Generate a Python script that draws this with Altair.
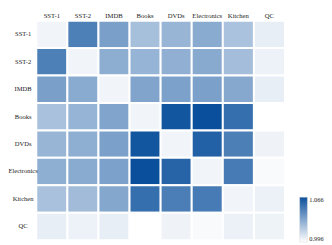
import altair as alt
import pandas as pd

labels = ["SST-1", "SST-2", "IMDB", "Books", "DVDs", "Electronics", "Kitchen", "QC"]

row_sst1 = [1.000, 1.0465, 1.0340, 1.0214, 1.0254, 1.0294, 1.0203, 1.0026]
row_sst2 = [1.0465, 1.000, 1.0283, 1.0260, 1.0277, 1.0300, 1.0223, 1.0011]
row_imdb = [1.0340, 1.0294, 1.000, 1.0320, 1.0334, 1.0337, 1.0305, 1.0026]
row_books = [1.0206, 1.0260, 1.0320, 1.000, 1.0634, 1.0660, 1.0534, 0.9960]
row_dvds = [1.0254, 1.0280, 1.0337, 1.0634, 1.000, 1.0589, 1.0469, 1.0006]
row_elec = [1.0280, 1.0294, 1.0334, 1.0660, 1.0580, 1.000, 1.0486, 0.9980]
row_kitchen = [1.0206, 1.0229, 1.0311, 1.0534, 1.0475, 1.0486, 1.000, 1.0014]
row_qc = [1.0026, 1.0011, 1.0026, 0.9960, 1.0006, 0.9980, 1.0014, 1.0009]

rows = [row_sst1, row_sst2, row_imdb, row_books, row_dvds, row_elec, row_kitchen, row_qc]

records = []
for rname, vals in zip(labels, rows):
    for cname, v in zip(labels, vals):
        records.append({"row": rname, "col": cname, "value": v})
df = pd.DataFrame(records)

font = "Liberation Serif"

chart = alt.Chart(df).mark_rect(stroke="white", strokeWidth=2).encode(
    x=alt.X("col:N", sort=labels, title=None,
            axis=alt.Axis(orient="top", domain=False, ticks=False, tickSize=0,
                          labelPadding=2, labelAngle=0, labelFont=font,
                          labelFontSize=6.8, labelColor="#222222")),
    y=alt.Y("row:N", sort=labels, title=None,
            axis=alt.Axis(domain=False, ticks=False, tickSize=0,
                          labelPadding=14, labelAlign="center", labelFont=font,
                          labelFontSize=6.7, labelColor="#222222")),
    color=alt.Color("value:Q", title=None,
                    scale=alt.Scale(domain=[0.996, 1.066], range=["#ffffff", "#0a4f9c"],
                                    interpolate="rgb"),
                    legend=alt.Legend(orient="none", legendX=270, legendY=181,
                                      gradientLength=46, gradientThickness=8,
                                      values=[0.996, 1.066], format=".3f",
                                      labelFont=font, labelFontSize=6.5,
                                      labelColor="#222222", labelOffset=2,
                                      gradientStrokeColor="#dddddd",
                                      gradientStrokeWidth=0.5)),
).properties(
    width=255, height=225,
    autosize=alt.AutoSizeParams(type="none"),
    padding={"left": 29, "top": 10, "right": 40, "bottom": 2},
).configure_view(stroke=None)

chart.save("out.html", embed_options={"renderer": "svg", "actions": False})
